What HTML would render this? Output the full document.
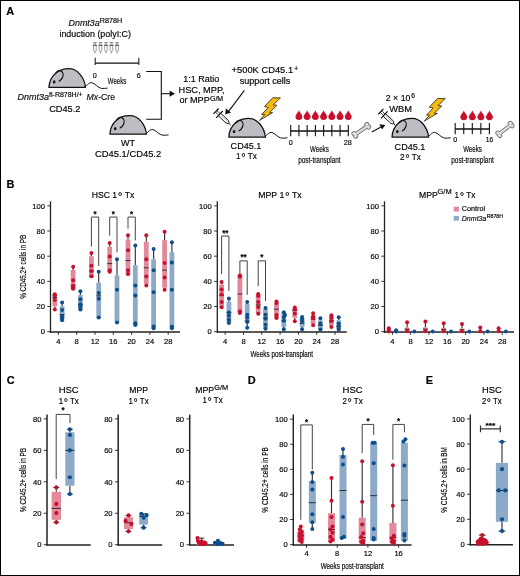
<!DOCTYPE html><html><head><meta charset="utf-8"><style>html,body{margin:0;padding:0;background:#fff;}body{width:520px;height:576px;overflow:hidden;}svg{display:block;will-change:transform;}text{font-family:"Liberation Sans", sans-serif;stroke:#111;stroke-width:0.18px;}</style></head><body>
<svg width="520" height="576" viewBox="0 0 520 576">
<defs>
<g id="mouse"><path d="M0,0 C0.3,-5 3,-11 6.6,-14 C8.5,-15.8 11,-17.3 14,-18 C16,-18.6 18,-18.7 20,-18.7 C28.5,-18.7 35.5,-10 36.6,0 Z" fill="#bebdc3" stroke="#111" stroke-width="1.25" stroke-linejoin="round"/><path d="M6.8,-14.3 C8.3,-16.5 10.5,-17.2 12.3,-16.3 C14.3,-15.2 14.6,-12.4 13.8,-10.4 C13.1,-8.6 11.8,-7.1 10.3,-6.3" fill="none" stroke="#111" stroke-width="1.2" stroke-linecap="round"/><ellipse cx="5.3" cy="-5.5" rx="1.3" ry="1.65" fill="#111"/><path d="M36.4,-0.6 C38.5,-2.5 40.5,-5.3 43.2,-4.6 C46,-3.9 49.5,0.6 52.5,1 C54.5,1.3 56.5,0.8 58.3,0.7" fill="none" stroke="#111" stroke-width="1" stroke-linecap="round"/></g>
<g id="bolt"><path d="M272.7,97.8 L280.4,97.8 L273.2,105 L277,105.2 L269.4,112.7 L272.6,112.6 L259.6,120.4 L264.8,114.3 L261.6,114.5 L268.3,107.3 L264.4,106.5 Z" fill="#f6b90e" stroke="#222" stroke-width="0.8" stroke-linejoin="miter"/></g>
<g id="syr"><line x1="0" y1="-3.7" x2="0" y2="3.7" stroke="#111" stroke-width="1.2"/><line x1="0" y1="-1.05" x2="4.7" y2="-1.05" stroke="#111" stroke-width="0.8"/><line x1="0" y1="1.05" x2="4.7" y2="1.05" stroke="#111" stroke-width="0.8"/><path d="M4.7,-1.75 L15.3,-1.75 L17.6,-0.4 L17.6,0.4 L15.3,1.75 L4.7,1.75" fill="#fff" stroke="#111" stroke-width="0.9" stroke-linejoin="round"/><rect x="6" y="-1.2" width="9" height="1.3" fill="#c8c8c8"/><line x1="4.7" y1="-4.8" x2="4.7" y2="4.8" stroke="#111" stroke-width="1.2"/><line x1="17.6" y1="0" x2="20.2" y2="0" stroke="#111" stroke-width="0.9"/></g>
<g id="ssyr" fill="none" stroke="#7a7a7a"><line x1="-1.9" y1="0.4" x2="1.9" y2="0.4" stroke-width="0.8"/><line x1="-0.6" y1="0.4" x2="-0.6" y2="3" stroke-width="0.6"/><line x1="0.6" y1="0.4" x2="0.6" y2="3" stroke-width="0.6"/><line x1="-2.1" y1="3.1" x2="2.1" y2="3.1" stroke="#444" stroke-width="1"/><path d="M-1.3,3.3 L-1.3,8.2 Q-1.3,9.3 0,9.3 Q1.3,9.3 1.3,8.2 L1.3,3.3" stroke-width="0.7"/><line x1="0" y1="9.3" x2="0" y2="11.4" stroke-width="0.7"/></g>
<g id="drop"><path d="M0,0 C0.7,2.3 3.5,4.3 3.5,6.5 C3.5,8.5 1.9,9.8 0,9.8 C-1.9,9.8 -3.5,8.5 -3.5,6.5 C-3.5,4.3 -0.7,2.3 0,0 Z" fill="#c8102e"/></g>
<g id="bone"><g fill="#d9d9d9" stroke="#666" stroke-width="1.5"><circle cx="-7.9" cy="-1.55" r="1.75"/><circle cx="-7.9" cy="1.55" r="1.75"/><circle cx="7.9" cy="-1.55" r="1.75"/><circle cx="7.9" cy="1.55" r="1.75"/><rect x="-7.6" y="-1.25" width="15.2" height="2.5"/></g><g fill="#d9d9d9"><circle cx="-7.9" cy="-1.55" r="1.75"/><circle cx="-7.9" cy="1.55" r="1.75"/><circle cx="7.9" cy="-1.55" r="1.75"/><circle cx="7.9" cy="1.55" r="1.75"/><rect x="-7.6" y="-1.25" width="15.2" height="2.5"/></g></g>
</defs>
<rect x="0" y="0" width="520" height="576" fill="#fff"/>
<text x="6.20" y="14.60" font-size="11.46" textLength="7.94" lengthAdjust="spacingAndGlyphs" font-weight="bold" fill="#000">A</text>
<text x="68.5" y="25.8" font-size="9.4" fill="#111" font-style="italic" textLength="31.2" lengthAdjust="spacingAndGlyphs">Dnmt3a</text>
<text x="99.80" y="23.40" font-size="6.88" textLength="22.40" lengthAdjust="spacingAndGlyphs">R878H</text>
<text x="95.20" y="37.30" font-size="9.38" text-anchor="middle" textLength="71.50" lengthAdjust="spacingAndGlyphs">induction (polyI:C)</text>
<use href="#ssyr" x="94.9" y="42.2"/>
<use href="#ssyr" x="100.5" y="42.2"/>
<use href="#ssyr" x="106.0" y="42.2"/>
<use href="#ssyr" x="111.5" y="42.2"/>
<use href="#ssyr" x="117.1" y="42.2"/>
<line x1="95.20" y1="57.80" x2="95.20" y2="65.00" stroke="#222" stroke-width="1.1"/>
<line x1="138.80" y1="57.80" x2="138.80" y2="65.00" stroke="#222" stroke-width="1.1"/>
<line x1="95.20" y1="63.10" x2="138.80" y2="63.10" stroke="#111" stroke-width="1.3"/>
<text x="94.70" y="77.80" font-size="7.50" text-anchor="middle" textLength="4.00" lengthAdjust="spacingAndGlyphs">0</text>
<text x="138.80" y="77.80" font-size="7.50" text-anchor="middle" textLength="4.00" lengthAdjust="spacingAndGlyphs">6</text>
<text x="117.00" y="83.80" font-size="9.59" text-anchor="middle" textLength="18.40" lengthAdjust="spacingAndGlyphs">Weeks</text>
<path d="M146.2,71.5 L161.3,71.5 L161.3,119.2 L146.2,119.2" fill="none" stroke="#111" stroke-width="1.1"/>
<line x1="161.30" y1="93.70" x2="171.00" y2="93.70" stroke="#111" stroke-width="1.1"/>
<path d="M175,93.7 L169.6,90.6 L169.6,96.8 Z" fill="#111"/>
<use href="#mouse" x="48.9" y="87.4"/>
<use href="#mouse" x="109.9" y="134.2"/>
<use href="#mouse" x="228.8" y="137.1"/>
<use href="#mouse" x="392.0" y="137.1"/>
<text x="17.4" y="100.3" font-size="9.4" fill="#111" font-style="italic" textLength="31.5" lengthAdjust="spacingAndGlyphs">Dnmt3a</text>
<text x="49.10" y="97.00" font-size="7.09" textLength="33.60" lengthAdjust="spacingAndGlyphs">fl-R878H/+</text>
<text x="86.5" y="100.4" font-size="9.4" fill="#111" textLength="28.6" lengthAdjust="spacingAndGlyphs"><tspan font-style="italic">Mx</tspan>-Cre</text>
<text x="64.80" y="111.70" font-size="9.38" text-anchor="middle" textLength="31.30" lengthAdjust="spacingAndGlyphs">CD45.2</text>
<text x="128.00" y="145.80" font-size="9.38" text-anchor="middle" textLength="13.99" lengthAdjust="spacingAndGlyphs">WT</text>
<text x="128.10" y="156.50" font-size="9.38" text-anchor="middle" textLength="66.20" lengthAdjust="spacingAndGlyphs">CD45.1/CD45.2</text>
<text x="201.20" y="81.50" font-size="9.38" text-anchor="middle" textLength="36.02" lengthAdjust="spacingAndGlyphs">1:1 Ratio</text>
<text x="201.50" y="92.90" font-size="9.38" text-anchor="middle" textLength="46.00" lengthAdjust="spacingAndGlyphs">HSC, MPP,</text>
<text x="179.40" y="103.30" font-size="9.38" textLength="30.40" lengthAdjust="spacingAndGlyphs">or MPP</text>
<text x="210.00" y="101.00" font-size="6.67" textLength="13.10" lengthAdjust="spacingAndGlyphs">G/M</text>
<text x="231.60" y="73.20" font-size="9.38" textLength="61.50" lengthAdjust="spacingAndGlyphs">+500K CD45.1</text>
<text x="294.00" y="71.20" font-size="7.82" textLength="4.38" lengthAdjust="spacingAndGlyphs">+</text>
<text x="265.00" y="84.10" font-size="9.38" text-anchor="middle" textLength="50.70" lengthAdjust="spacingAndGlyphs">support cells</text>
<line x1="244.40" y1="90.30" x2="228.60" y2="111.40" stroke="#111" stroke-width="1.1"/>
<path d="M225.2,114.6 L225.9,108.6 L231,112.4 Z" fill="#111"/>
<use href="#syr" transform="translate(216.1,111.2) rotate(43.6)"/>
<use href="#bolt"/>
<text x="246.00" y="149.20" font-size="9.38" text-anchor="middle" textLength="30.80" lengthAdjust="spacingAndGlyphs">CD45.1</text>
<text x="246.50" y="159.40" font-size="9.38" text-anchor="middle" textLength="20.94" lengthAdjust="spacingAndGlyphs">1<tspan font-size="12.66" dx="0.7" dy="2.96">°</tspan><tspan dy="-2.96"> Tx</tspan></text>
<use href="#drop" x="298.90" y="110.2"/>
<use href="#drop" x="307.13" y="110.2"/>
<use href="#drop" x="315.36" y="110.2"/>
<use href="#drop" x="323.59" y="110.2"/>
<use href="#drop" x="331.82" y="110.2"/>
<use href="#drop" x="340.05" y="110.2"/>
<use href="#drop" x="348.28" y="110.2"/>
<line x1="290.70" y1="125.00" x2="290.70" y2="136.20" stroke="#111" stroke-width="1.1"/>
<line x1="298.93" y1="125.00" x2="298.93" y2="136.20" stroke="#111" stroke-width="1.1"/>
<line x1="307.16" y1="125.00" x2="307.16" y2="136.20" stroke="#111" stroke-width="1.1"/>
<line x1="315.39" y1="125.00" x2="315.39" y2="136.20" stroke="#111" stroke-width="1.1"/>
<line x1="323.62" y1="125.00" x2="323.62" y2="136.20" stroke="#111" stroke-width="1.1"/>
<line x1="331.85" y1="125.00" x2="331.85" y2="136.20" stroke="#111" stroke-width="1.1"/>
<line x1="340.08" y1="125.00" x2="340.08" y2="136.20" stroke="#111" stroke-width="1.1"/>
<line x1="348.31" y1="125.00" x2="348.31" y2="136.20" stroke="#111" stroke-width="1.1"/>
<line x1="290.70" y1="131.00" x2="348.30" y2="131.00" stroke="#111" stroke-width="1.3"/>
<text x="290.70" y="144.60" font-size="7.50" text-anchor="middle" textLength="4.00" lengthAdjust="spacingAndGlyphs">0</text>
<text x="347.80" y="144.60" font-size="7.50" text-anchor="middle" textLength="8.01" lengthAdjust="spacingAndGlyphs">28</text>
<text x="319.40" y="151.60" font-size="9.59" text-anchor="middle" textLength="18.60" lengthAdjust="spacingAndGlyphs">Weeks</text>
<text x="319.40" y="162.70" font-size="9.59" text-anchor="middle" textLength="42.50" lengthAdjust="spacingAndGlyphs">post-transplant</text>
<use href="#bone" transform="translate(361.3,130.3) rotate(-35)"/>
<line x1="371.80" y1="131.90" x2="381.50" y2="126.80" stroke="#111" stroke-width="1.1"/>
<path d="M385.2,124.9 L379.3,124.2 L382.1,129.6 Z" fill="#111"/>
<use href="#syr" transform="translate(380.9,111.6) rotate(43.6)"/>
<text x="385.80" y="100.60" font-size="9.38" textLength="24.60" lengthAdjust="spacingAndGlyphs">2 × 10</text>
<text x="411.20" y="98.10" font-size="7.09" textLength="3.78" lengthAdjust="spacingAndGlyphs">6</text>
<text x="389.20" y="111.60" font-size="9.59" textLength="22.70" lengthAdjust="spacingAndGlyphs">WBM</text>
<use href="#bolt" transform="translate(164.8,0.7)"/>
<text x="410.00" y="149.50" font-size="9.38" text-anchor="middle" textLength="30.80" lengthAdjust="spacingAndGlyphs">CD45.1</text>
<text x="410.50" y="160.30" font-size="9.38" text-anchor="middle" textLength="20.94" lengthAdjust="spacingAndGlyphs">2<tspan font-size="12.66" dx="0.7" dy="2.96">°</tspan><tspan dy="-2.96"> Tx</tspan></text>
<use href="#drop" x="463.80" y="110.4"/>
<use href="#drop" x="472.35" y="110.4"/>
<use href="#drop" x="480.90" y="110.4"/>
<use href="#drop" x="489.45" y="110.4"/>
<line x1="455.20" y1="123.00" x2="455.20" y2="134.20" stroke="#111" stroke-width="1.1"/>
<line x1="463.75" y1="123.00" x2="463.75" y2="134.20" stroke="#111" stroke-width="1.1"/>
<line x1="472.30" y1="123.00" x2="472.30" y2="134.20" stroke="#111" stroke-width="1.1"/>
<line x1="480.85" y1="123.00" x2="480.85" y2="134.20" stroke="#111" stroke-width="1.1"/>
<line x1="489.40" y1="123.00" x2="489.40" y2="134.20" stroke="#111" stroke-width="1.1"/>
<line x1="455.20" y1="129.00" x2="489.40" y2="129.00" stroke="#111" stroke-width="1.3"/>
<text x="455.20" y="142.30" font-size="7.50" text-anchor="middle" textLength="4.00" lengthAdjust="spacingAndGlyphs">0</text>
<text x="489.40" y="142.30" font-size="7.50" text-anchor="middle" textLength="7.50" lengthAdjust="spacingAndGlyphs">16</text>
<text x="472.50" y="151.60" font-size="9.59" text-anchor="middle" textLength="18.60" lengthAdjust="spacingAndGlyphs">Weeks</text>
<text x="472.50" y="162.60" font-size="9.59" text-anchor="middle" textLength="42.50" lengthAdjust="spacingAndGlyphs">post-transplant</text>
<use href="#bone" transform="translate(505.0,129.4) rotate(-38)"/>
<text x="6.50" y="188.10" font-size="11.46" textLength="7.94" lengthAdjust="spacingAndGlyphs" font-weight="bold" fill="#000">B</text>
<text transform="translate(25.6,266.8) rotate(-90)" font-size="9" text-anchor="middle" textLength="64" lengthAdjust="spacingAndGlyphs">% CD45.2+ cells in PB</text>
<line x1="49.90" y1="332.00" x2="180.00" y2="332.00" stroke="#222" stroke-width="1.5"/>
<line x1="50.50" y1="201.30" x2="50.50" y2="332.70" stroke="#222" stroke-width="1.3"/>
<line x1="47.30" y1="331.70" x2="50.50" y2="331.70" stroke="#222" stroke-width="0.9"/>
<text x="44.90" y="334.40" font-size="7.92" text-anchor="end" textLength="4.23" lengthAdjust="spacingAndGlyphs">0</text>
<line x1="47.30" y1="306.53" x2="50.50" y2="306.53" stroke="#222" stroke-width="0.9"/>
<text x="44.90" y="309.23" font-size="7.92" text-anchor="end" textLength="8.45" lengthAdjust="spacingAndGlyphs">20</text>
<line x1="47.30" y1="281.36" x2="50.50" y2="281.36" stroke="#222" stroke-width="0.9"/>
<text x="44.90" y="284.06" font-size="7.92" text-anchor="end" textLength="8.45" lengthAdjust="spacingAndGlyphs">40</text>
<line x1="47.30" y1="256.19" x2="50.50" y2="256.19" stroke="#222" stroke-width="0.9"/>
<text x="44.90" y="258.89" font-size="7.92" text-anchor="end" textLength="8.45" lengthAdjust="spacingAndGlyphs">60</text>
<line x1="47.30" y1="231.02" x2="50.50" y2="231.02" stroke="#222" stroke-width="0.9"/>
<text x="44.90" y="233.72" font-size="7.92" text-anchor="end" textLength="8.45" lengthAdjust="spacingAndGlyphs">80</text>
<line x1="47.30" y1="205.85" x2="50.50" y2="205.85" stroke="#222" stroke-width="0.9"/>
<text x="44.90" y="208.55" font-size="7.92" text-anchor="end" textLength="12.68" lengthAdjust="spacingAndGlyphs">100</text>
<line x1="58.40" y1="331.70" x2="58.40" y2="334.90" stroke="#222" stroke-width="0.9"/>
<text x="58.40" y="343.70" font-size="7.92" text-anchor="middle" textLength="4.23" lengthAdjust="spacingAndGlyphs">4</text>
<line x1="76.70" y1="331.70" x2="76.70" y2="334.90" stroke="#222" stroke-width="0.9"/>
<text x="76.70" y="343.70" font-size="7.92" text-anchor="middle" textLength="4.23" lengthAdjust="spacingAndGlyphs">8</text>
<line x1="95.00" y1="331.70" x2="95.00" y2="334.90" stroke="#222" stroke-width="0.9"/>
<text x="95.00" y="343.70" font-size="7.92" text-anchor="middle" textLength="8.45" lengthAdjust="spacingAndGlyphs">12</text>
<line x1="113.30" y1="331.70" x2="113.30" y2="334.90" stroke="#222" stroke-width="0.9"/>
<text x="113.30" y="343.70" font-size="7.92" text-anchor="middle" textLength="8.45" lengthAdjust="spacingAndGlyphs">16</text>
<line x1="131.60" y1="331.70" x2="131.60" y2="334.90" stroke="#222" stroke-width="0.9"/>
<text x="131.60" y="343.70" font-size="7.92" text-anchor="middle" textLength="8.45" lengthAdjust="spacingAndGlyphs">20</text>
<line x1="149.90" y1="331.70" x2="149.90" y2="334.90" stroke="#222" stroke-width="0.9"/>
<text x="149.90" y="343.70" font-size="7.92" text-anchor="middle" textLength="8.45" lengthAdjust="spacingAndGlyphs">24</text>
<line x1="168.20" y1="331.70" x2="168.20" y2="334.90" stroke="#222" stroke-width="0.9"/>
<text x="168.20" y="343.70" font-size="7.92" text-anchor="middle" textLength="8.45" lengthAdjust="spacingAndGlyphs">28</text>
<line x1="54.80" y1="294.45" x2="54.80" y2="294.20" stroke="#333" stroke-width="1.15"/>
<line x1="54.80" y1="306.40" x2="54.80" y2="309.55" stroke="#333" stroke-width="1.15"/>
<rect x="52.40" y="294.45" width="4.80" height="11.96" fill="#e28a9b"/>
<line x1="52.40" y1="297.59" x2="57.20" y2="297.59" stroke="#222" stroke-width="0.9"/>
<circle cx="54.80" cy="294.20" r="2.0" fill="#c8102e"/>
<circle cx="54.80" cy="295.33" r="2.0" fill="#c8102e"/>
<circle cx="54.80" cy="300.11" r="2.0" fill="#c8102e"/>
<circle cx="54.80" cy="309.55" r="2.0" fill="#c8102e"/>
<line x1="62.10" y1="306.15" x2="62.10" y2="302.50" stroke="#333" stroke-width="1.15"/>
<line x1="62.10" y1="319.24" x2="62.10" y2="320.37" stroke="#333" stroke-width="1.15"/>
<rect x="59.70" y="306.15" width="4.80" height="13.09" fill="#8dabc9"/>
<line x1="59.70" y1="314.46" x2="64.50" y2="314.46" stroke="#222" stroke-width="0.9"/>
<circle cx="62.10" cy="302.50" r="2.0" fill="#0c4f8c"/>
<circle cx="62.10" cy="310.05" r="2.0" fill="#0c4f8c"/>
<circle cx="62.10" cy="316.22" r="2.0" fill="#0c4f8c"/>
<circle cx="62.10" cy="318.61" r="2.0" fill="#0c4f8c"/>
<circle cx="62.10" cy="320.37" r="2.0" fill="#0c4f8c"/>
<line x1="73.10" y1="270.03" x2="73.10" y2="266.64" stroke="#333" stroke-width="1.15"/>
<rect x="70.70" y="270.03" width="4.80" height="19.51" fill="#e28a9b"/>
<line x1="70.70" y1="285.64" x2="75.50" y2="285.64" stroke="#222" stroke-width="0.9"/>
<circle cx="73.10" cy="266.64" r="2.0" fill="#c8102e"/>
<circle cx="73.10" cy="280.35" r="2.0" fill="#c8102e"/>
<circle cx="73.10" cy="285.64" r="2.0" fill="#c8102e"/>
<circle cx="73.10" cy="287.27" r="2.0" fill="#c8102e"/>
<circle cx="73.10" cy="288.66" r="2.0" fill="#c8102e"/>
<line x1="80.40" y1="295.08" x2="80.40" y2="291.30" stroke="#333" stroke-width="1.15"/>
<rect x="78.00" y="295.08" width="4.80" height="14.72" fill="#8dabc9"/>
<line x1="78.00" y1="304.52" x2="82.80" y2="304.52" stroke="#222" stroke-width="0.9"/>
<circle cx="80.40" cy="291.30" r="2.0" fill="#0c4f8c"/>
<circle cx="80.40" cy="299.36" r="2.0" fill="#0c4f8c"/>
<circle cx="80.40" cy="304.26" r="2.0" fill="#0c4f8c"/>
<circle cx="80.40" cy="306.53" r="2.0" fill="#0c4f8c"/>
<circle cx="80.40" cy="309.55" r="2.0" fill="#0c4f8c"/>
<line x1="91.40" y1="256.19" x2="91.40" y2="253.04" stroke="#333" stroke-width="1.15"/>
<rect x="89.00" y="256.19" width="4.80" height="21.39" fill="#e28a9b"/>
<line x1="89.00" y1="271.04" x2="93.80" y2="271.04" stroke="#222" stroke-width="0.9"/>
<circle cx="91.40" cy="253.04" r="2.0" fill="#c8102e"/>
<circle cx="91.40" cy="265.75" r="2.0" fill="#c8102e"/>
<circle cx="91.40" cy="271.04" r="2.0" fill="#c8102e"/>
<circle cx="91.40" cy="276.20" r="2.0" fill="#c8102e"/>
<line x1="98.70" y1="282.74" x2="98.70" y2="271.67" stroke="#333" stroke-width="1.15"/>
<rect x="96.30" y="282.74" width="4.80" height="35.49" fill="#8dabc9"/>
<line x1="96.30" y1="295.83" x2="101.10" y2="295.83" stroke="#222" stroke-width="0.9"/>
<circle cx="98.70" cy="271.67" r="2.0" fill="#0c4f8c"/>
<circle cx="98.70" cy="293.06" r="2.0" fill="#0c4f8c"/>
<circle cx="98.70" cy="298.73" r="2.0" fill="#0c4f8c"/>
<circle cx="98.70" cy="317.48" r="2.0" fill="#0c4f8c"/>
<line x1="109.70" y1="246.63" x2="109.70" y2="243.10" stroke="#333" stroke-width="1.15"/>
<rect x="107.30" y="246.63" width="4.80" height="25.55" fill="#e28a9b"/>
<line x1="107.30" y1="263.62" x2="112.10" y2="263.62" stroke="#222" stroke-width="0.9"/>
<circle cx="109.70" cy="243.10" r="2.0" fill="#c8102e"/>
<circle cx="109.70" cy="256.57" r="2.0" fill="#c8102e"/>
<circle cx="109.70" cy="270.16" r="2.0" fill="#c8102e"/>
<circle cx="109.70" cy="271.80" r="2.0" fill="#c8102e"/>
<line x1="117.00" y1="275.32" x2="117.00" y2="259.34" stroke="#333" stroke-width="1.15"/>
<rect x="114.60" y="275.32" width="4.80" height="47.57" fill="#8dabc9"/>
<circle cx="117.00" cy="259.34" r="2.0" fill="#0c4f8c"/>
<circle cx="117.00" cy="289.67" r="2.0" fill="#0c4f8c"/>
<circle cx="117.00" cy="322.39" r="2.0" fill="#0c4f8c"/>
<line x1="128.00" y1="239.45" x2="128.00" y2="235.17" stroke="#333" stroke-width="1.15"/>
<rect x="125.60" y="239.45" width="4.80" height="35.49" fill="#e28a9b"/>
<line x1="125.60" y1="260.59" x2="130.40" y2="260.59" stroke="#222" stroke-width="0.9"/>
<circle cx="128.00" cy="235.17" r="2.0" fill="#c8102e"/>
<circle cx="128.00" cy="250.15" r="2.0" fill="#c8102e"/>
<circle cx="128.00" cy="270.16" r="2.0" fill="#c8102e"/>
<circle cx="128.00" cy="274.06" r="2.0" fill="#c8102e"/>
<line x1="135.30" y1="265.25" x2="135.30" y2="245.49" stroke="#333" stroke-width="1.15"/>
<rect x="132.90" y="265.25" width="4.80" height="60.16" fill="#8dabc9"/>
<circle cx="135.30" cy="245.49" r="2.0" fill="#0c4f8c"/>
<circle cx="135.30" cy="285.39" r="2.0" fill="#0c4f8c"/>
<circle cx="135.30" cy="295.58" r="2.0" fill="#0c4f8c"/>
<circle cx="135.30" cy="323.14" r="2.0" fill="#0c4f8c"/>
<circle cx="135.30" cy="325.03" r="2.0" fill="#0c4f8c"/>
<line x1="146.30" y1="241.72" x2="146.30" y2="235.17" stroke="#333" stroke-width="1.15"/>
<line x1="146.30" y1="283.75" x2="146.30" y2="285.39" stroke="#333" stroke-width="1.15"/>
<rect x="143.90" y="241.72" width="4.80" height="42.03" fill="#e28a9b"/>
<line x1="143.90" y1="267.77" x2="148.70" y2="267.77" stroke="#222" stroke-width="0.9"/>
<circle cx="146.30" cy="235.17" r="2.0" fill="#c8102e"/>
<circle cx="146.30" cy="259.34" r="2.0" fill="#c8102e"/>
<circle cx="146.30" cy="276.45" r="2.0" fill="#c8102e"/>
<circle cx="146.30" cy="285.39" r="2.0" fill="#c8102e"/>
<line x1="153.60" y1="259.34" x2="153.60" y2="248.89" stroke="#333" stroke-width="1.15"/>
<rect x="151.20" y="259.34" width="4.80" height="69.09" fill="#8dabc9"/>
<circle cx="153.60" cy="248.89" r="2.0" fill="#0c4f8c"/>
<circle cx="153.60" cy="270.16" r="2.0" fill="#0c4f8c"/>
<circle cx="153.60" cy="292.31" r="2.0" fill="#0c4f8c"/>
<circle cx="153.60" cy="326.41" r="2.0" fill="#0c4f8c"/>
<circle cx="153.60" cy="328.18" r="2.0" fill="#0c4f8c"/>
<line x1="164.60" y1="240.08" x2="164.60" y2="231.78" stroke="#333" stroke-width="1.15"/>
<line x1="164.60" y1="287.65" x2="164.60" y2="289.67" stroke="#333" stroke-width="1.15"/>
<rect x="162.20" y="240.08" width="4.80" height="47.57" fill="#e28a9b"/>
<line x1="162.20" y1="270.16" x2="167.00" y2="270.16" stroke="#222" stroke-width="0.9"/>
<circle cx="164.60" cy="231.78" r="2.0" fill="#c8102e"/>
<circle cx="164.60" cy="262.99" r="2.0" fill="#c8102e"/>
<circle cx="164.60" cy="277.58" r="2.0" fill="#c8102e"/>
<circle cx="164.60" cy="289.67" r="2.0" fill="#c8102e"/>
<line x1="171.90" y1="252.16" x2="171.90" y2="242.22" stroke="#333" stroke-width="1.15"/>
<rect x="169.50" y="252.16" width="4.80" height="76.27" fill="#8dabc9"/>
<circle cx="171.90" cy="242.22" r="2.0" fill="#0c4f8c"/>
<circle cx="171.90" cy="262.48" r="2.0" fill="#0c4f8c"/>
<circle cx="171.90" cy="289.67" r="2.0" fill="#0c4f8c"/>
<circle cx="171.90" cy="326.67" r="2.0" fill="#0c4f8c"/>
<circle cx="171.90" cy="328.18" r="2.0" fill="#0c4f8c"/>
<path d="M91.40,246.50 L91.40,217.05 L98.70,217.05 L98.70,265.88" fill="none" stroke="#444" stroke-width="1.0"/>
<text x="95.05" y="216.65" font-size="8.34" text-anchor="middle" textLength="3.11" lengthAdjust="spacingAndGlyphs" font-weight="bold">*</text>
<path d="M109.70,235.68 L109.70,217.05 L117.00,217.05 L117.00,252.41" fill="none" stroke="#444" stroke-width="1.0"/>
<text x="113.35" y="216.65" font-size="8.34" text-anchor="middle" textLength="3.11" lengthAdjust="spacingAndGlyphs" font-weight="bold">*</text>
<path d="M128.00,228.50 L128.00,217.05 L135.30,217.05 L135.30,240.33" fill="none" stroke="#444" stroke-width="1.0"/>
<text x="131.65" y="216.65" font-size="8.34" text-anchor="middle" textLength="3.11" lengthAdjust="spacingAndGlyphs" font-weight="bold">*</text>
<text x="113.00" y="198.00" font-size="8.96" text-anchor="middle" textLength="42.70" lengthAdjust="spacingAndGlyphs">HSC 1<tspan font-size="12.10" dx="0.7" dy="2.83">°</tspan><tspan dy="-2.83"> Tx</tspan></text>
<line x1="216.70" y1="332.00" x2="346.80" y2="332.00" stroke="#222" stroke-width="1.5"/>
<line x1="217.30" y1="201.30" x2="217.30" y2="332.70" stroke="#222" stroke-width="1.3"/>
<line x1="214.10" y1="331.70" x2="217.30" y2="331.70" stroke="#222" stroke-width="0.9"/>
<text x="211.70" y="334.40" font-size="7.92" text-anchor="end" textLength="4.23" lengthAdjust="spacingAndGlyphs">0</text>
<line x1="214.10" y1="306.53" x2="217.30" y2="306.53" stroke="#222" stroke-width="0.9"/>
<text x="211.70" y="309.23" font-size="7.92" text-anchor="end" textLength="8.45" lengthAdjust="spacingAndGlyphs">20</text>
<line x1="214.10" y1="281.36" x2="217.30" y2="281.36" stroke="#222" stroke-width="0.9"/>
<text x="211.70" y="284.06" font-size="7.92" text-anchor="end" textLength="8.45" lengthAdjust="spacingAndGlyphs">40</text>
<line x1="214.10" y1="256.19" x2="217.30" y2="256.19" stroke="#222" stroke-width="0.9"/>
<text x="211.70" y="258.89" font-size="7.92" text-anchor="end" textLength="8.45" lengthAdjust="spacingAndGlyphs">60</text>
<line x1="214.10" y1="231.02" x2="217.30" y2="231.02" stroke="#222" stroke-width="0.9"/>
<text x="211.70" y="233.72" font-size="7.92" text-anchor="end" textLength="8.45" lengthAdjust="spacingAndGlyphs">80</text>
<line x1="214.10" y1="205.85" x2="217.30" y2="205.85" stroke="#222" stroke-width="0.9"/>
<text x="211.70" y="208.55" font-size="7.92" text-anchor="end" textLength="12.68" lengthAdjust="spacingAndGlyphs">100</text>
<line x1="225.20" y1="331.70" x2="225.20" y2="334.90" stroke="#222" stroke-width="0.9"/>
<text x="225.20" y="343.70" font-size="7.92" text-anchor="middle" textLength="4.23" lengthAdjust="spacingAndGlyphs">4</text>
<line x1="243.50" y1="331.70" x2="243.50" y2="334.90" stroke="#222" stroke-width="0.9"/>
<text x="243.50" y="343.70" font-size="7.92" text-anchor="middle" textLength="4.23" lengthAdjust="spacingAndGlyphs">8</text>
<line x1="261.80" y1="331.70" x2="261.80" y2="334.90" stroke="#222" stroke-width="0.9"/>
<text x="261.80" y="343.70" font-size="7.92" text-anchor="middle" textLength="8.45" lengthAdjust="spacingAndGlyphs">12</text>
<line x1="280.10" y1="331.70" x2="280.10" y2="334.90" stroke="#222" stroke-width="0.9"/>
<text x="280.10" y="343.70" font-size="7.92" text-anchor="middle" textLength="8.45" lengthAdjust="spacingAndGlyphs">16</text>
<line x1="298.40" y1="331.70" x2="298.40" y2="334.90" stroke="#222" stroke-width="0.9"/>
<text x="298.40" y="343.70" font-size="7.92" text-anchor="middle" textLength="8.45" lengthAdjust="spacingAndGlyphs">20</text>
<line x1="316.70" y1="331.70" x2="316.70" y2="334.90" stroke="#222" stroke-width="0.9"/>
<text x="316.70" y="343.70" font-size="7.92" text-anchor="middle" textLength="8.45" lengthAdjust="spacingAndGlyphs">24</text>
<line x1="335.00" y1="331.70" x2="335.00" y2="334.90" stroke="#222" stroke-width="0.9"/>
<text x="335.00" y="343.70" font-size="7.92" text-anchor="middle" textLength="8.45" lengthAdjust="spacingAndGlyphs">28</text>
<line x1="221.60" y1="284.51" x2="221.60" y2="282.12" stroke="#333" stroke-width="1.15"/>
<line x1="221.60" y1="306.91" x2="221.60" y2="307.29" stroke="#333" stroke-width="1.15"/>
<rect x="219.20" y="284.51" width="4.80" height="22.40" fill="#e28a9b"/>
<line x1="219.20" y1="295.33" x2="224.00" y2="295.33" stroke="#222" stroke-width="0.9"/>
<circle cx="221.60" cy="282.12" r="2.0" fill="#c8102e"/>
<circle cx="221.60" cy="289.41" r="2.0" fill="#c8102e"/>
<circle cx="221.60" cy="294.57" r="2.0" fill="#c8102e"/>
<circle cx="221.60" cy="302.00" r="2.0" fill="#c8102e"/>
<circle cx="221.60" cy="307.29" r="2.0" fill="#c8102e"/>
<line x1="228.90" y1="301.62" x2="228.90" y2="298.60" stroke="#333" stroke-width="1.15"/>
<line x1="228.90" y1="322.76" x2="228.90" y2="322.89" stroke="#333" stroke-width="1.15"/>
<rect x="226.50" y="301.62" width="4.80" height="21.14" fill="#8dabc9"/>
<line x1="226.50" y1="312.44" x2="231.30" y2="312.44" stroke="#222" stroke-width="0.9"/>
<circle cx="228.90" cy="298.60" r="2.0" fill="#0c4f8c"/>
<circle cx="228.90" cy="312.44" r="2.0" fill="#0c4f8c"/>
<circle cx="228.90" cy="315.84" r="2.0" fill="#0c4f8c"/>
<circle cx="228.90" cy="319.87" r="2.0" fill="#0c4f8c"/>
<circle cx="228.90" cy="322.89" r="2.0" fill="#0c4f8c"/>
<line x1="239.90" y1="312.82" x2="239.90" y2="312.95" stroke="#333" stroke-width="1.15"/>
<rect x="237.50" y="275.07" width="4.80" height="37.75" fill="#e28a9b"/>
<line x1="237.50" y1="293.94" x2="242.30" y2="293.94" stroke="#222" stroke-width="0.9"/>
<circle cx="239.90" cy="275.19" r="2.0" fill="#c8102e"/>
<circle cx="239.90" cy="276.83" r="2.0" fill="#c8102e"/>
<circle cx="239.90" cy="311.31" r="2.0" fill="#c8102e"/>
<circle cx="239.90" cy="312.95" r="2.0" fill="#c8102e"/>
<line x1="247.20" y1="304.01" x2="247.20" y2="302.00" stroke="#333" stroke-width="1.15"/>
<line x1="247.20" y1="322.26" x2="247.20" y2="327.67" stroke="#333" stroke-width="1.15"/>
<rect x="244.80" y="304.01" width="4.80" height="18.25" fill="#8dabc9"/>
<line x1="244.80" y1="321.00" x2="249.60" y2="321.00" stroke="#222" stroke-width="0.9"/>
<circle cx="247.20" cy="302.00" r="2.0" fill="#0c4f8c"/>
<circle cx="247.20" cy="314.84" r="2.0" fill="#0c4f8c"/>
<circle cx="247.20" cy="317.86" r="2.0" fill="#0c4f8c"/>
<circle cx="247.20" cy="321.88" r="2.0" fill="#0c4f8c"/>
<circle cx="247.20" cy="327.67" r="2.0" fill="#0c4f8c"/>
<line x1="258.20" y1="313.33" x2="258.20" y2="313.83" stroke="#333" stroke-width="1.15"/>
<rect x="255.80" y="293.94" width="4.80" height="19.38" fill="#e28a9b"/>
<line x1="255.80" y1="304.89" x2="260.60" y2="304.89" stroke="#222" stroke-width="0.9"/>
<circle cx="258.20" cy="293.94" r="2.0" fill="#c8102e"/>
<circle cx="258.20" cy="295.96" r="2.0" fill="#c8102e"/>
<circle cx="258.20" cy="302.00" r="2.0" fill="#c8102e"/>
<circle cx="258.20" cy="306.91" r="2.0" fill="#c8102e"/>
<circle cx="258.20" cy="313.83" r="2.0" fill="#c8102e"/>
<line x1="265.50" y1="309.05" x2="265.50" y2="307.91" stroke="#333" stroke-width="1.15"/>
<rect x="263.10" y="309.05" width="4.80" height="19.63" fill="#8dabc9"/>
<line x1="263.10" y1="317.86" x2="267.90" y2="317.86" stroke="#222" stroke-width="0.9"/>
<circle cx="265.50" cy="307.91" r="2.0" fill="#0c4f8c"/>
<circle cx="265.50" cy="314.84" r="2.0" fill="#0c4f8c"/>
<circle cx="265.50" cy="318.86" r="2.0" fill="#0c4f8c"/>
<circle cx="265.50" cy="324.78" r="2.0" fill="#0c4f8c"/>
<circle cx="265.50" cy="328.68" r="2.0" fill="#0c4f8c"/>
<line x1="276.50" y1="302.63" x2="276.50" y2="301.62" stroke="#333" stroke-width="1.15"/>
<rect x="274.10" y="302.63" width="4.80" height="15.73" fill="#e28a9b"/>
<line x1="274.10" y1="309.17" x2="278.90" y2="309.17" stroke="#222" stroke-width="0.9"/>
<circle cx="276.50" cy="301.62" r="2.0" fill="#c8102e"/>
<circle cx="276.50" cy="302.88" r="2.0" fill="#c8102e"/>
<circle cx="276.50" cy="315.09" r="2.0" fill="#c8102e"/>
<circle cx="276.50" cy="318.11" r="2.0" fill="#c8102e"/>
<line x1="283.80" y1="312.57" x2="283.80" y2="312.19" stroke="#333" stroke-width="1.15"/>
<line x1="283.80" y1="327.04" x2="283.80" y2="329.31" stroke="#333" stroke-width="1.15"/>
<rect x="281.40" y="312.57" width="4.80" height="14.47" fill="#8dabc9"/>
<line x1="281.40" y1="320.75" x2="286.20" y2="320.75" stroke="#222" stroke-width="0.9"/>
<circle cx="283.80" cy="312.19" r="2.0" fill="#0c4f8c"/>
<circle cx="285.00" cy="315.09" r="2.0" fill="#0c4f8c"/>
<circle cx="283.80" cy="317.10" r="2.0" fill="#0c4f8c"/>
<circle cx="283.80" cy="320.75" r="2.0" fill="#0c4f8c"/>
<circle cx="283.80" cy="329.31" r="2.0" fill="#0c4f8c"/>
<line x1="294.80" y1="308.17" x2="294.80" y2="307.54" stroke="#333" stroke-width="1.15"/>
<line x1="294.80" y1="317.86" x2="294.80" y2="321.13" stroke="#333" stroke-width="1.15"/>
<rect x="292.40" y="308.17" width="4.80" height="9.69" fill="#e28a9b"/>
<line x1="292.40" y1="310.56" x2="297.20" y2="310.56" stroke="#222" stroke-width="0.9"/>
<circle cx="294.80" cy="307.54" r="2.0" fill="#c8102e"/>
<circle cx="294.80" cy="309.17" r="2.0" fill="#c8102e"/>
<circle cx="294.80" cy="313.45" r="2.0" fill="#c8102e"/>
<circle cx="294.80" cy="321.13" r="2.0" fill="#c8102e"/>
<line x1="302.10" y1="317.86" x2="302.10" y2="317.10" stroke="#333" stroke-width="1.15"/>
<line x1="302.10" y1="327.04" x2="302.10" y2="329.31" stroke="#333" stroke-width="1.15"/>
<rect x="299.70" y="317.86" width="4.80" height="9.19" fill="#8dabc9"/>
<line x1="299.70" y1="323.39" x2="304.50" y2="323.39" stroke="#222" stroke-width="0.9"/>
<circle cx="302.10" cy="317.10" r="2.0" fill="#0c4f8c"/>
<circle cx="302.10" cy="319.12" r="2.0" fill="#0c4f8c"/>
<circle cx="302.10" cy="321.13" r="2.0" fill="#0c4f8c"/>
<circle cx="302.10" cy="329.31" r="2.0" fill="#0c4f8c"/>
<line x1="313.10" y1="315.34" x2="313.10" y2="313.20" stroke="#333" stroke-width="1.15"/>
<line x1="313.10" y1="324.15" x2="313.10" y2="325.16" stroke="#333" stroke-width="1.15"/>
<rect x="310.70" y="315.34" width="4.80" height="8.81" fill="#e28a9b"/>
<line x1="310.70" y1="319.12" x2="315.50" y2="319.12" stroke="#222" stroke-width="0.9"/>
<circle cx="313.10" cy="313.20" r="2.0" fill="#c8102e"/>
<circle cx="313.10" cy="316.85" r="2.0" fill="#c8102e"/>
<circle cx="313.10" cy="318.11" r="2.0" fill="#c8102e"/>
<circle cx="313.10" cy="325.16" r="2.0" fill="#c8102e"/>
<line x1="320.40" y1="320.37" x2="320.40" y2="318.36" stroke="#333" stroke-width="1.15"/>
<rect x="318.00" y="320.37" width="4.80" height="9.19" fill="#8dabc9"/>
<line x1="318.00" y1="325.41" x2="322.80" y2="325.41" stroke="#222" stroke-width="0.9"/>
<circle cx="320.40" cy="318.36" r="2.0" fill="#0c4f8c"/>
<circle cx="320.40" cy="323.39" r="2.0" fill="#0c4f8c"/>
<circle cx="320.40" cy="329.56" r="2.0" fill="#0c4f8c"/>
<line x1="331.40" y1="316.09" x2="331.40" y2="315.34" stroke="#333" stroke-width="1.15"/>
<line x1="331.40" y1="325.66" x2="331.40" y2="327.04" stroke="#333" stroke-width="1.15"/>
<rect x="329.00" y="316.09" width="4.80" height="9.56" fill="#e28a9b"/>
<line x1="329.00" y1="320.37" x2="333.80" y2="320.37" stroke="#222" stroke-width="0.9"/>
<circle cx="331.40" cy="315.34" r="2.0" fill="#c8102e"/>
<circle cx="331.40" cy="317.86" r="2.0" fill="#c8102e"/>
<circle cx="331.40" cy="321.25" r="2.0" fill="#c8102e"/>
<circle cx="331.40" cy="327.04" r="2.0" fill="#c8102e"/>
<line x1="338.70" y1="320.37" x2="338.70" y2="317.23" stroke="#333" stroke-width="1.15"/>
<line x1="338.70" y1="329.18" x2="338.70" y2="329.56" stroke="#333" stroke-width="1.15"/>
<rect x="336.30" y="320.37" width="4.80" height="8.81" fill="#8dabc9"/>
<line x1="336.30" y1="326.67" x2="341.10" y2="326.67" stroke="#222" stroke-width="0.9"/>
<circle cx="338.70" cy="317.23" r="2.0" fill="#0c4f8c"/>
<circle cx="338.70" cy="323.39" r="2.0" fill="#0c4f8c"/>
<circle cx="338.70" cy="326.04" r="2.0" fill="#0c4f8c"/>
<circle cx="338.70" cy="329.56" r="2.0" fill="#0c4f8c"/>
<path d="M221.60,274.19 L221.60,236.05 L228.90,236.05 L228.90,291.05" fill="none" stroke="#444" stroke-width="1.0"/>
<text x="225.25" y="235.65" font-size="8.34" text-anchor="middle" textLength="6.23" lengthAdjust="spacingAndGlyphs" font-weight="bold">**</text>
<path d="M239.90,273.18 L239.90,260.85 L247.20,260.85 L247.20,294.95" fill="none" stroke="#444" stroke-width="1.0"/>
<text x="243.55" y="260.45" font-size="8.34" text-anchor="middle" textLength="6.23" lengthAdjust="spacingAndGlyphs" font-weight="bold">**</text>
<path d="M258.20,286.02 L258.20,260.85 L265.50,260.85 L265.50,300.99" fill="none" stroke="#444" stroke-width="1.0"/>
<text x="261.85" y="260.45" font-size="8.34" text-anchor="middle" textLength="3.11" lengthAdjust="spacingAndGlyphs" font-weight="bold">*</text>
<text x="280.00" y="198.00" font-size="8.96" text-anchor="middle" textLength="43.50" lengthAdjust="spacingAndGlyphs">MPP 1<tspan font-size="12.10" dx="0.7" dy="2.83">°</tspan><tspan dy="-2.83"> Tx</tspan></text>
<text x="281.80" y="356.80" font-size="9.17" text-anchor="middle" textLength="62.50" lengthAdjust="spacingAndGlyphs">Weeks post-transplant</text>
<line x1="383.90" y1="332.00" x2="514.00" y2="332.00" stroke="#222" stroke-width="1.5"/>
<line x1="384.50" y1="201.30" x2="384.50" y2="332.70" stroke="#222" stroke-width="1.3"/>
<line x1="381.30" y1="331.70" x2="384.50" y2="331.70" stroke="#222" stroke-width="0.9"/>
<text x="378.90" y="334.40" font-size="7.92" text-anchor="end" textLength="4.23" lengthAdjust="spacingAndGlyphs">0</text>
<line x1="381.30" y1="306.53" x2="384.50" y2="306.53" stroke="#222" stroke-width="0.9"/>
<text x="378.90" y="309.23" font-size="7.92" text-anchor="end" textLength="8.45" lengthAdjust="spacingAndGlyphs">20</text>
<line x1="381.30" y1="281.36" x2="384.50" y2="281.36" stroke="#222" stroke-width="0.9"/>
<text x="378.90" y="284.06" font-size="7.92" text-anchor="end" textLength="8.45" lengthAdjust="spacingAndGlyphs">40</text>
<line x1="381.30" y1="256.19" x2="384.50" y2="256.19" stroke="#222" stroke-width="0.9"/>
<text x="378.90" y="258.89" font-size="7.92" text-anchor="end" textLength="8.45" lengthAdjust="spacingAndGlyphs">60</text>
<line x1="381.30" y1="231.02" x2="384.50" y2="231.02" stroke="#222" stroke-width="0.9"/>
<text x="378.90" y="233.72" font-size="7.92" text-anchor="end" textLength="8.45" lengthAdjust="spacingAndGlyphs">80</text>
<line x1="381.30" y1="205.85" x2="384.50" y2="205.85" stroke="#222" stroke-width="0.9"/>
<text x="378.90" y="208.55" font-size="7.92" text-anchor="end" textLength="12.68" lengthAdjust="spacingAndGlyphs">100</text>
<line x1="392.40" y1="331.70" x2="392.40" y2="334.90" stroke="#222" stroke-width="0.9"/>
<text x="392.40" y="343.70" font-size="7.92" text-anchor="middle" textLength="4.23" lengthAdjust="spacingAndGlyphs">4</text>
<line x1="410.70" y1="331.70" x2="410.70" y2="334.90" stroke="#222" stroke-width="0.9"/>
<text x="410.70" y="343.70" font-size="7.92" text-anchor="middle" textLength="4.23" lengthAdjust="spacingAndGlyphs">8</text>
<line x1="429.00" y1="331.70" x2="429.00" y2="334.90" stroke="#222" stroke-width="0.9"/>
<text x="429.00" y="343.70" font-size="7.92" text-anchor="middle" textLength="8.45" lengthAdjust="spacingAndGlyphs">12</text>
<line x1="447.30" y1="331.70" x2="447.30" y2="334.90" stroke="#222" stroke-width="0.9"/>
<text x="447.30" y="343.70" font-size="7.92" text-anchor="middle" textLength="8.45" lengthAdjust="spacingAndGlyphs">16</text>
<line x1="465.60" y1="331.70" x2="465.60" y2="334.90" stroke="#222" stroke-width="0.9"/>
<text x="465.60" y="343.70" font-size="7.92" text-anchor="middle" textLength="8.45" lengthAdjust="spacingAndGlyphs">20</text>
<line x1="483.90" y1="331.70" x2="483.90" y2="334.90" stroke="#222" stroke-width="0.9"/>
<text x="483.90" y="343.70" font-size="7.92" text-anchor="middle" textLength="8.45" lengthAdjust="spacingAndGlyphs">24</text>
<line x1="502.20" y1="331.70" x2="502.20" y2="334.90" stroke="#222" stroke-width="0.9"/>
<text x="502.20" y="343.70" font-size="7.92" text-anchor="middle" textLength="8.45" lengthAdjust="spacingAndGlyphs">28</text>
<line x1="388.80" y1="329.81" x2="388.80" y2="328.30" stroke="#333" stroke-width="1.15"/>
<rect x="386.40" y="329.81" width="4.80" height="1.89" fill="#e28a9b"/>
<circle cx="388.80" cy="328.30" r="2.0" fill="#c8102e"/>
<circle cx="388.80" cy="330.19" r="2.0" fill="#c8102e"/>
<circle cx="388.80" cy="331.45" r="2.0" fill="#c8102e"/>
<line x1="396.10" y1="330.44" x2="396.10" y2="330.19" stroke="#333" stroke-width="1.15"/>
<rect x="393.70" y="330.44" width="4.80" height="1.26" fill="#8dabc9"/>
<circle cx="396.10" cy="330.19" r="2.0" fill="#0c4f8c"/>
<circle cx="396.10" cy="331.45" r="2.0" fill="#0c4f8c"/>
<line x1="407.10" y1="327.55" x2="407.10" y2="322.14" stroke="#333" stroke-width="1.15"/>
<rect x="404.70" y="327.55" width="4.80" height="4.15" fill="#e28a9b"/>
<line x1="404.70" y1="329.18" x2="409.50" y2="329.18" stroke="#222" stroke-width="0.9"/>
<circle cx="407.10" cy="322.14" r="2.0" fill="#c8102e"/>
<circle cx="407.10" cy="331.32" r="2.0" fill="#c8102e"/>
<rect x="412.00" y="331.07" width="4.80" height="0.63" fill="#8dabc9"/>
<circle cx="414.40" cy="331.45" r="2.0" fill="#0c4f8c"/>
<line x1="425.40" y1="327.55" x2="425.40" y2="321.38" stroke="#333" stroke-width="1.15"/>
<rect x="423.00" y="327.55" width="4.80" height="4.15" fill="#e28a9b"/>
<line x1="423.00" y1="329.18" x2="427.80" y2="329.18" stroke="#222" stroke-width="0.9"/>
<circle cx="425.40" cy="321.38" r="2.0" fill="#c8102e"/>
<circle cx="425.40" cy="331.32" r="2.0" fill="#c8102e"/>
<rect x="430.30" y="331.07" width="4.80" height="0.63" fill="#8dabc9"/>
<circle cx="432.70" cy="331.45" r="2.0" fill="#0c4f8c"/>
<line x1="443.70" y1="327.92" x2="443.70" y2="323.27" stroke="#333" stroke-width="1.15"/>
<rect x="441.30" y="327.92" width="4.80" height="3.78" fill="#e28a9b"/>
<line x1="441.30" y1="329.43" x2="446.10" y2="329.43" stroke="#222" stroke-width="0.9"/>
<circle cx="443.70" cy="323.27" r="2.0" fill="#c8102e"/>
<circle cx="443.70" cy="331.32" r="2.0" fill="#c8102e"/>
<rect x="448.60" y="331.07" width="4.80" height="0.63" fill="#8dabc9"/>
<circle cx="451.00" cy="331.45" r="2.0" fill="#0c4f8c"/>
<line x1="462.00" y1="328.55" x2="462.00" y2="324.02" stroke="#333" stroke-width="1.15"/>
<rect x="459.60" y="328.55" width="4.80" height="3.15" fill="#e28a9b"/>
<line x1="459.60" y1="329.81" x2="464.40" y2="329.81" stroke="#222" stroke-width="0.9"/>
<circle cx="462.00" cy="324.02" r="2.0" fill="#c8102e"/>
<circle cx="462.00" cy="331.32" r="2.0" fill="#c8102e"/>
<rect x="466.90" y="331.07" width="4.80" height="0.63" fill="#8dabc9"/>
<circle cx="469.30" cy="331.45" r="2.0" fill="#0c4f8c"/>
<line x1="480.30" y1="330.44" x2="480.30" y2="327.55" stroke="#333" stroke-width="1.15"/>
<rect x="477.90" y="330.44" width="4.80" height="1.26" fill="#e28a9b"/>
<circle cx="480.30" cy="327.55" r="2.0" fill="#c8102e"/>
<circle cx="480.30" cy="331.32" r="2.0" fill="#c8102e"/>
<rect x="485.20" y="331.07" width="4.80" height="0.63" fill="#8dabc9"/>
<circle cx="487.60" cy="331.45" r="2.0" fill="#0c4f8c"/>
<line x1="498.60" y1="330.44" x2="498.60" y2="328.30" stroke="#333" stroke-width="1.15"/>
<rect x="496.20" y="330.44" width="4.80" height="1.26" fill="#e28a9b"/>
<circle cx="498.60" cy="328.30" r="2.0" fill="#c8102e"/>
<circle cx="498.60" cy="331.32" r="2.0" fill="#c8102e"/>
<rect x="503.50" y="331.07" width="4.80" height="0.63" fill="#8dabc9"/>
<circle cx="505.90" cy="331.45" r="2.0" fill="#0c4f8c"/>
<text x="419.00" y="197.90" font-size="8.96" textLength="18.64" lengthAdjust="spacingAndGlyphs">MPP</text>
<text x="437.60" y="194.20" font-size="6.77" textLength="14.00" lengthAdjust="spacingAndGlyphs">G/M</text>
<text x="454.60" y="197.90" font-size="8.96" textLength="20.80" lengthAdjust="spacingAndGlyphs">1<tspan font-size="12.10" dx="0.7" dy="2.83">°</tspan><tspan dy="-2.83"> Tx</tspan></text>
<rect x="453.70" y="206.70" width="5.20" height="4.80" fill="#e28a9b"/>
<rect x="453.70" y="215.90" width="5.20" height="4.80" fill="#8dabc9"/>
<text x="461.80" y="211.40" font-size="7.50" textLength="23.30" lengthAdjust="spacingAndGlyphs">Control</text>
<text x="461.8" y="220.6" font-size="7.5" fill="#111" font-style="italic" textLength="24.6" lengthAdjust="spacingAndGlyphs">Dnmt3a</text>
<text x="486.70" y="217.50" font-size="5.42" textLength="16.40" lengthAdjust="spacingAndGlyphs">R878H</text>
<text x="6.70" y="383.70" font-size="11.46" textLength="7.94" lengthAdjust="spacingAndGlyphs" font-weight="bold" fill="#000">C</text>
<text transform="translate(26.0,480.0) rotate(-90)" font-size="9" text-anchor="middle" textLength="64" lengthAdjust="spacingAndGlyphs">% CD45.2+ cells in PB</text>
<line x1="46.40" y1="545.00" x2="90.70" y2="545.00" stroke="#222" stroke-width="1.5"/>
<line x1="47.00" y1="414.60" x2="47.00" y2="545.70" stroke="#222" stroke-width="1.5"/>
<line x1="43.80" y1="544.70" x2="47.00" y2="544.70" stroke="#222" stroke-width="0.9"/>
<text x="41.40" y="547.40" font-size="7.92" text-anchor="end" textLength="4.23" lengthAdjust="spacingAndGlyphs">0</text>
<line x1="43.80" y1="513.25" x2="47.00" y2="513.25" stroke="#222" stroke-width="0.9"/>
<text x="41.40" y="515.95" font-size="7.92" text-anchor="end" textLength="8.45" lengthAdjust="spacingAndGlyphs">20</text>
<line x1="43.80" y1="481.80" x2="47.00" y2="481.80" stroke="#222" stroke-width="0.9"/>
<text x="41.40" y="484.50" font-size="7.92" text-anchor="end" textLength="8.45" lengthAdjust="spacingAndGlyphs">40</text>
<line x1="43.80" y1="450.35" x2="47.00" y2="450.35" stroke="#222" stroke-width="0.9"/>
<text x="41.40" y="453.05" font-size="7.92" text-anchor="end" textLength="8.45" lengthAdjust="spacingAndGlyphs">60</text>
<line x1="43.80" y1="418.90" x2="47.00" y2="418.90" stroke="#222" stroke-width="0.9"/>
<text x="41.40" y="421.60" font-size="7.92" text-anchor="end" textLength="8.45" lengthAdjust="spacingAndGlyphs">80</text>
<text x="68.70" y="392.90" font-size="8.96" text-anchor="middle" textLength="20.10" lengthAdjust="spacingAndGlyphs">HSC</text>
<text x="68.70" y="404.00" font-size="8.96" text-anchor="middle" textLength="20.10" lengthAdjust="spacingAndGlyphs">1<tspan font-size="12.10" dx="0.7" dy="2.83">°</tspan><tspan dy="-2.83"> Tx</tspan></text>
<line x1="56.30" y1="491.86" x2="56.30" y2="487.46" stroke="#333" stroke-width="1.15"/>
<line x1="56.30" y1="519.85" x2="56.30" y2="522.37" stroke="#333" stroke-width="1.15"/>
<line x1="53.30" y1="487.46" x2="59.30" y2="487.46" stroke="#333" stroke-width="1.0"/>
<line x1="53.30" y1="522.37" x2="59.30" y2="522.37" stroke="#333" stroke-width="1.0"/>
<rect x="51.60" y="491.86" width="9.40" height="27.99" fill="#e28a9b"/>
<line x1="51.60" y1="508.38" x2="61.00" y2="508.38" stroke="#222" stroke-width="0.9"/>
<circle cx="56.30" cy="487.46" r="2.1" fill="#c8102e"/>
<circle cx="56.30" cy="503.97" r="2.1" fill="#c8102e"/>
<circle cx="56.30" cy="513.09" r="2.1" fill="#c8102e"/>
<circle cx="56.30" cy="522.37" r="2.1" fill="#c8102e"/>
<line x1="69.90" y1="432.27" x2="69.90" y2="429.28" stroke="#333" stroke-width="1.15"/>
<line x1="69.90" y1="485.73" x2="69.90" y2="494.07" stroke="#333" stroke-width="1.15"/>
<line x1="66.90" y1="429.28" x2="72.90" y2="429.28" stroke="#333" stroke-width="1.0"/>
<line x1="66.90" y1="494.07" x2="72.90" y2="494.07" stroke="#333" stroke-width="1.0"/>
<rect x="65.30" y="432.27" width="9.20" height="53.47" fill="#8dabc9"/>
<line x1="65.30" y1="450.35" x2="74.50" y2="450.35" stroke="#222" stroke-width="0.9"/>
<circle cx="69.90" cy="429.28" r="2.1" fill="#0c4f8c"/>
<circle cx="69.90" cy="434.94" r="2.1" fill="#0c4f8c"/>
<circle cx="69.90" cy="450.35" r="2.1" fill="#0c4f8c"/>
<circle cx="69.90" cy="477.24" r="2.1" fill="#0c4f8c"/>
<circle cx="69.90" cy="494.07" r="2.1" fill="#0c4f8c"/>
<path d="M56.20,479.13 L56.20,414.40 L70.00,414.40 L70.00,423.15" fill="none" stroke="#444" stroke-width="1.0"/>
<text x="63.10" y="412.80" font-size="8.34" text-anchor="middle" textLength="3.11" lengthAdjust="spacingAndGlyphs" font-weight="bold">*</text>
<line x1="117.60" y1="545.00" x2="162.20" y2="545.00" stroke="#222" stroke-width="1.5"/>
<line x1="118.20" y1="414.60" x2="118.20" y2="545.70" stroke="#222" stroke-width="1.5"/>
<line x1="115.00" y1="544.70" x2="118.20" y2="544.70" stroke="#222" stroke-width="0.9"/>
<text x="112.60" y="547.40" font-size="7.92" text-anchor="end" textLength="4.23" lengthAdjust="spacingAndGlyphs">0</text>
<line x1="115.00" y1="513.25" x2="118.20" y2="513.25" stroke="#222" stroke-width="0.9"/>
<text x="112.60" y="515.95" font-size="7.92" text-anchor="end" textLength="8.45" lengthAdjust="spacingAndGlyphs">20</text>
<line x1="115.00" y1="481.80" x2="118.20" y2="481.80" stroke="#222" stroke-width="0.9"/>
<text x="112.60" y="484.50" font-size="7.92" text-anchor="end" textLength="8.45" lengthAdjust="spacingAndGlyphs">40</text>
<line x1="115.00" y1="450.35" x2="118.20" y2="450.35" stroke="#222" stroke-width="0.9"/>
<text x="112.60" y="453.05" font-size="7.92" text-anchor="end" textLength="8.45" lengthAdjust="spacingAndGlyphs">60</text>
<line x1="115.00" y1="418.90" x2="118.20" y2="418.90" stroke="#222" stroke-width="0.9"/>
<text x="112.60" y="421.60" font-size="7.92" text-anchor="end" textLength="8.45" lengthAdjust="spacingAndGlyphs">80</text>
<text x="138.60" y="392.90" font-size="8.96" text-anchor="middle" textLength="18.64" lengthAdjust="spacingAndGlyphs">MPP</text>
<text x="138.60" y="404.00" font-size="8.96" text-anchor="middle" textLength="20.10" lengthAdjust="spacingAndGlyphs">1<tspan font-size="12.10" dx="0.7" dy="2.83">°</tspan><tspan dy="-2.83"> Tx</tspan></text>
<line x1="128.50" y1="517.18" x2="128.50" y2="515.45" stroke="#333" stroke-width="1.15"/>
<line x1="128.50" y1="528.98" x2="128.50" y2="531.33" stroke="#333" stroke-width="1.15"/>
<line x1="125.50" y1="515.45" x2="131.50" y2="515.45" stroke="#333" stroke-width="1.0"/>
<line x1="125.50" y1="531.33" x2="131.50" y2="531.33" stroke="#333" stroke-width="1.0"/>
<rect x="124.00" y="517.18" width="9.00" height="11.79" fill="#e28a9b"/>
<line x1="124.00" y1="522.69" x2="133.00" y2="522.69" stroke="#222" stroke-width="0.9"/>
<circle cx="128.50" cy="515.45" r="2.1" fill="#c8102e"/>
<circle cx="125.60" cy="520.96" r="2.1" fill="#c8102e"/>
<circle cx="131.40" cy="524.10" r="2.1" fill="#c8102e"/>
<circle cx="128.50" cy="531.33" r="2.1" fill="#c8102e"/>
<line x1="143.60" y1="515.77" x2="143.60" y2="513.88" stroke="#333" stroke-width="1.15"/>
<line x1="143.60" y1="524.57" x2="143.60" y2="527.72" stroke="#333" stroke-width="1.15"/>
<line x1="140.60" y1="513.88" x2="146.60" y2="513.88" stroke="#333" stroke-width="1.0"/>
<line x1="140.60" y1="527.72" x2="146.60" y2="527.72" stroke="#333" stroke-width="1.0"/>
<rect x="139.20" y="515.77" width="8.80" height="8.81" fill="#8dabc9"/>
<line x1="139.20" y1="516.40" x2="148.00" y2="516.40" stroke="#222" stroke-width="0.9"/>
<circle cx="141.30" cy="513.88" r="2.1" fill="#0c4f8c"/>
<circle cx="146.60" cy="514.98" r="2.1" fill="#0c4f8c"/>
<circle cx="143.60" cy="517.65" r="2.1" fill="#0c4f8c"/>
<circle cx="143.60" cy="527.72" r="2.1" fill="#0c4f8c"/>
<line x1="189.10" y1="545.00" x2="234.00" y2="545.00" stroke="#222" stroke-width="1.5"/>
<line x1="189.70" y1="414.60" x2="189.70" y2="545.70" stroke="#222" stroke-width="1.5"/>
<line x1="186.50" y1="544.70" x2="189.70" y2="544.70" stroke="#222" stroke-width="0.9"/>
<text x="184.10" y="547.40" font-size="7.92" text-anchor="end" textLength="4.23" lengthAdjust="spacingAndGlyphs">0</text>
<line x1="186.50" y1="513.25" x2="189.70" y2="513.25" stroke="#222" stroke-width="0.9"/>
<text x="184.10" y="515.95" font-size="7.92" text-anchor="end" textLength="8.45" lengthAdjust="spacingAndGlyphs">20</text>
<line x1="186.50" y1="481.80" x2="189.70" y2="481.80" stroke="#222" stroke-width="0.9"/>
<text x="184.10" y="484.50" font-size="7.92" text-anchor="end" textLength="8.45" lengthAdjust="spacingAndGlyphs">40</text>
<line x1="186.50" y1="450.35" x2="189.70" y2="450.35" stroke="#222" stroke-width="0.9"/>
<text x="184.10" y="453.05" font-size="7.92" text-anchor="end" textLength="8.45" lengthAdjust="spacingAndGlyphs">60</text>
<line x1="186.50" y1="418.90" x2="189.70" y2="418.90" stroke="#222" stroke-width="0.9"/>
<text x="184.10" y="421.60" font-size="7.92" text-anchor="end" textLength="8.45" lengthAdjust="spacingAndGlyphs">80</text>
<text x="195.20" y="392.60" font-size="8.96" textLength="19.00" lengthAdjust="spacingAndGlyphs">MPP</text>
<text x="214.20" y="389.70" font-size="6.88" textLength="13.90" lengthAdjust="spacingAndGlyphs">G/M</text>
<text x="212.60" y="403.40" font-size="8.96" text-anchor="middle" textLength="20.10" lengthAdjust="spacingAndGlyphs">1<tspan font-size="12.10" dx="0.7" dy="2.83">°</tspan><tspan dy="-2.83"> Tx</tspan></text>
<line x1="201.50" y1="541.08" x2="201.50" y2="538.10" stroke="#333" stroke-width="1.15"/>
<rect x="197.00" y="541.08" width="9.00" height="3.62" fill="#e28a9b"/>
<line x1="197.00" y1="543.13" x2="206.00" y2="543.13" stroke="#222" stroke-width="0.9"/>
<circle cx="197.50" cy="538.10" r="2.1" fill="#c8102e"/>
<circle cx="198.00" cy="541.08" r="2.1" fill="#c8102e"/>
<circle cx="201.50" cy="541.87" r="2.1" fill="#c8102e"/>
<circle cx="204.00" cy="542.34" r="2.1" fill="#c8102e"/>
<circle cx="205.50" cy="543.13" r="2.1" fill="#c8102e"/>
<circle cx="200.00" cy="543.91" r="2.1" fill="#c8102e"/>
<circle cx="203.50" cy="544.23" r="2.1" fill="#c8102e"/>
<line x1="199.30" y1="538.10" x2="204.30" y2="538.10" stroke="#222" stroke-width="0.9"/>
<line x1="201.70" y1="538.10" x2="201.70" y2="541.08" stroke="#222" stroke-width="0.9"/>
<line x1="218.50" y1="542.34" x2="218.50" y2="540.93" stroke="#333" stroke-width="1.15"/>
<rect x="214.10" y="542.34" width="8.80" height="2.36" fill="#8dabc9"/>
<circle cx="218.00" cy="540.93" r="2.1" fill="#0c4f8c"/>
<circle cx="215.00" cy="542.81" r="2.1" fill="#0c4f8c"/>
<circle cx="220.30" cy="543.13" r="2.1" fill="#0c4f8c"/>
<circle cx="222.50" cy="543.91" r="2.1" fill="#0c4f8c"/>
<circle cx="217.50" cy="544.23" r="2.1" fill="#0c4f8c"/>
<text x="247.70" y="383.70" font-size="11.46" textLength="7.94" lengthAdjust="spacingAndGlyphs" font-weight="bold" fill="#000">D</text>
<text transform="translate(268.3,479.9) rotate(-90)" font-size="9" text-anchor="middle" textLength="65.5" lengthAdjust="spacingAndGlyphs">% CD45.2+ cells in PB</text>
<line x1="292.70" y1="544.90" x2="411.60" y2="544.90" stroke="#222" stroke-width="1.5"/>
<line x1="293.30" y1="414.60" x2="293.30" y2="545.60" stroke="#222" stroke-width="1.4"/>
<line x1="290.10" y1="544.60" x2="293.30" y2="544.60" stroke="#222" stroke-width="0.9"/>
<text x="287.70" y="547.30" font-size="7.92" text-anchor="end" textLength="4.23" lengthAdjust="spacingAndGlyphs">0</text>
<line x1="290.10" y1="519.51" x2="293.30" y2="519.51" stroke="#222" stroke-width="0.9"/>
<text x="287.70" y="522.21" font-size="7.92" text-anchor="end" textLength="8.45" lengthAdjust="spacingAndGlyphs">20</text>
<line x1="290.10" y1="494.42" x2="293.30" y2="494.42" stroke="#222" stroke-width="0.9"/>
<text x="287.70" y="497.12" font-size="7.92" text-anchor="end" textLength="8.45" lengthAdjust="spacingAndGlyphs">40</text>
<line x1="290.10" y1="469.33" x2="293.30" y2="469.33" stroke="#222" stroke-width="0.9"/>
<text x="287.70" y="472.03" font-size="7.92" text-anchor="end" textLength="8.45" lengthAdjust="spacingAndGlyphs">60</text>
<line x1="290.10" y1="444.24" x2="293.30" y2="444.24" stroke="#222" stroke-width="0.9"/>
<text x="287.70" y="446.94" font-size="7.92" text-anchor="end" textLength="8.45" lengthAdjust="spacingAndGlyphs">80</text>
<line x1="290.10" y1="419.15" x2="293.30" y2="419.15" stroke="#222" stroke-width="0.9"/>
<text x="287.70" y="421.85" font-size="7.92" text-anchor="end" textLength="12.68" lengthAdjust="spacingAndGlyphs">100</text>
<text x="352.60" y="393.00" font-size="8.96" text-anchor="middle" textLength="20.10" lengthAdjust="spacingAndGlyphs">HSC</text>
<text x="352.60" y="404.20" font-size="8.96" text-anchor="middle" textLength="20.10" lengthAdjust="spacingAndGlyphs">2<tspan font-size="12.10" dx="0.7" dy="2.83">°</tspan><tspan dy="-2.83"> Tx</tspan></text>
<line x1="306.50" y1="544.60" x2="306.50" y2="547.80" stroke="#222" stroke-width="0.9"/>
<text x="306.50" y="556.30" font-size="7.92" text-anchor="middle" textLength="4.23" lengthAdjust="spacingAndGlyphs">4</text>
<line x1="337.20" y1="544.60" x2="337.20" y2="547.80" stroke="#222" stroke-width="0.9"/>
<text x="337.20" y="556.30" font-size="7.92" text-anchor="middle" textLength="4.23" lengthAdjust="spacingAndGlyphs">8</text>
<line x1="367.90" y1="544.60" x2="367.90" y2="547.80" stroke="#222" stroke-width="0.9"/>
<text x="367.90" y="556.30" font-size="7.92" text-anchor="middle" textLength="8.45" lengthAdjust="spacingAndGlyphs">12</text>
<line x1="398.60" y1="544.60" x2="398.60" y2="547.80" stroke="#222" stroke-width="0.9"/>
<text x="398.60" y="556.30" font-size="7.92" text-anchor="middle" textLength="8.45" lengthAdjust="spacingAndGlyphs">16</text>
<text x="352.20" y="568.70" font-size="9.38" text-anchor="middle" textLength="63.00" lengthAdjust="spacingAndGlyphs">Weeks post-transplant</text>
<line x1="300.80" y1="531.55" x2="300.80" y2="526.54" stroke="#333" stroke-width="1.15"/>
<line x1="300.80" y1="541.46" x2="300.80" y2="542.09" stroke="#333" stroke-width="1.15"/>
<rect x="297.30" y="531.55" width="7.00" height="9.91" fill="#e28a9b"/>
<line x1="297.30" y1="535.94" x2="304.30" y2="535.94" stroke="#222" stroke-width="0.9"/>
<circle cx="300.80" cy="526.54" r="2.0" fill="#c8102e"/>
<circle cx="299.80" cy="529.55" r="2.0" fill="#c8102e"/>
<circle cx="301.80" cy="531.43" r="2.0" fill="#c8102e"/>
<circle cx="299.80" cy="533.31" r="2.0" fill="#c8102e"/>
<circle cx="301.80" cy="535.19" r="2.0" fill="#c8102e"/>
<circle cx="299.80" cy="537.07" r="2.0" fill="#c8102e"/>
<circle cx="301.80" cy="538.95" r="2.0" fill="#c8102e"/>
<circle cx="299.80" cy="540.59" r="2.0" fill="#c8102e"/>
<circle cx="301.80" cy="542.09" r="2.0" fill="#c8102e"/>
<line x1="312.30" y1="481.12" x2="312.30" y2="472.84" stroke="#333" stroke-width="1.15"/>
<line x1="312.30" y1="522.90" x2="312.30" y2="529.04" stroke="#333" stroke-width="1.15"/>
<rect x="308.80" y="481.12" width="7.00" height="41.77" fill="#8dabc9"/>
<line x1="308.80" y1="502.70" x2="315.80" y2="502.70" stroke="#222" stroke-width="0.9"/>
<circle cx="312.30" cy="472.84" r="2.0" fill="#0c4f8c"/>
<circle cx="312.30" cy="481.88" r="2.0" fill="#0c4f8c"/>
<circle cx="312.30" cy="489.53" r="2.0" fill="#0c4f8c"/>
<circle cx="312.30" cy="514.37" r="2.0" fill="#0c4f8c"/>
<circle cx="312.30" cy="522.14" r="2.0" fill="#0c4f8c"/>
<circle cx="312.30" cy="529.04" r="2.0" fill="#0c4f8c"/>
<line x1="331.50" y1="513.24" x2="331.50" y2="478.11" stroke="#333" stroke-width="1.15"/>
<rect x="328.00" y="513.24" width="7.00" height="28.85" fill="#e28a9b"/>
<line x1="328.00" y1="529.55" x2="335.00" y2="529.55" stroke="#222" stroke-width="0.9"/>
<circle cx="331.50" cy="478.11" r="2.0" fill="#c8102e"/>
<circle cx="331.50" cy="500.69" r="2.0" fill="#c8102e"/>
<circle cx="331.50" cy="517.00" r="2.0" fill="#c8102e"/>
<circle cx="332.50" cy="526.41" r="2.0" fill="#c8102e"/>
<circle cx="330.50" cy="529.55" r="2.0" fill="#c8102e"/>
<circle cx="332.50" cy="532.68" r="2.0" fill="#c8102e"/>
<circle cx="330.50" cy="536.70" r="2.0" fill="#c8102e"/>
<circle cx="332.50" cy="539.58" r="2.0" fill="#c8102e"/>
<circle cx="330.50" cy="541.46" r="2.0" fill="#c8102e"/>
<line x1="343.00" y1="455.03" x2="343.00" y2="449.01" stroke="#333" stroke-width="1.15"/>
<rect x="339.50" y="455.03" width="7.00" height="83.68" fill="#8dabc9"/>
<line x1="339.50" y1="490.53" x2="346.50" y2="490.53" stroke="#222" stroke-width="0.9"/>
<circle cx="343.00" cy="449.01" r="2.0" fill="#0c4f8c"/>
<circle cx="343.00" cy="456.79" r="2.0" fill="#0c4f8c"/>
<circle cx="343.00" cy="464.56" r="2.0" fill="#0c4f8c"/>
<circle cx="343.00" cy="517.00" r="2.0" fill="#0c4f8c"/>
<circle cx="344.00" cy="536.82" r="2.0" fill="#0c4f8c"/>
<circle cx="341.80" cy="537.95" r="2.0" fill="#0c4f8c"/>
<line x1="362.20" y1="517.75" x2="362.20" y2="461.30" stroke="#333" stroke-width="1.15"/>
<line x1="362.20" y1="542.09" x2="362.20" y2="543.35" stroke="#333" stroke-width="1.15"/>
<rect x="358.70" y="517.75" width="7.00" height="24.34" fill="#e28a9b"/>
<line x1="358.70" y1="537.57" x2="365.70" y2="537.57" stroke="#222" stroke-width="0.9"/>
<circle cx="362.20" cy="461.30" r="2.0" fill="#c8102e"/>
<circle cx="362.20" cy="501.82" r="2.0" fill="#c8102e"/>
<circle cx="362.20" cy="524.53" r="2.0" fill="#c8102e"/>
<circle cx="363.20" cy="533.31" r="2.0" fill="#c8102e"/>
<circle cx="361.20" cy="537.07" r="2.0" fill="#c8102e"/>
<circle cx="363.20" cy="540.84" r="2.0" fill="#c8102e"/>
<circle cx="361.20" cy="542.09" r="2.0" fill="#c8102e"/>
<circle cx="363.20" cy="543.35" r="2.0" fill="#c8102e"/>
<rect x="370.20" y="442.73" width="7.00" height="97.98" fill="#8dabc9"/>
<line x1="370.20" y1="495.67" x2="377.20" y2="495.67" stroke="#222" stroke-width="0.9"/>
<circle cx="372.70" cy="442.73" r="2.0" fill="#0c4f8c"/>
<circle cx="374.70" cy="442.73" r="2.0" fill="#0c4f8c"/>
<circle cx="373.70" cy="463.18" r="2.0" fill="#0c4f8c"/>
<circle cx="373.70" cy="528.92" r="2.0" fill="#0c4f8c"/>
<circle cx="373.70" cy="538.08" r="2.0" fill="#0c4f8c"/>
<circle cx="373.70" cy="539.58" r="2.0" fill="#0c4f8c"/>
<line x1="392.90" y1="522.90" x2="392.90" y2="465.32" stroke="#333" stroke-width="1.15"/>
<line x1="392.90" y1="542.09" x2="392.90" y2="543.35" stroke="#333" stroke-width="1.15"/>
<rect x="389.40" y="522.90" width="7.00" height="19.19" fill="#e28a9b"/>
<line x1="389.40" y1="537.57" x2="396.40" y2="537.57" stroke="#222" stroke-width="0.9"/>
<circle cx="392.90" cy="465.32" r="2.0" fill="#c8102e"/>
<circle cx="392.90" cy="505.71" r="2.0" fill="#c8102e"/>
<circle cx="393.90" cy="535.82" r="2.0" fill="#c8102e"/>
<circle cx="391.90" cy="538.33" r="2.0" fill="#c8102e"/>
<circle cx="393.90" cy="540.84" r="2.0" fill="#c8102e"/>
<circle cx="391.90" cy="542.09" r="2.0" fill="#c8102e"/>
<circle cx="393.90" cy="543.35" r="2.0" fill="#c8102e"/>
<line x1="404.40" y1="442.73" x2="404.40" y2="439.35" stroke="#333" stroke-width="1.15"/>
<rect x="400.90" y="442.73" width="7.00" height="97.98" fill="#8dabc9"/>
<line x1="400.90" y1="500.19" x2="407.90" y2="500.19" stroke="#222" stroke-width="0.9"/>
<circle cx="405.40" cy="439.35" r="2.0" fill="#0c4f8c"/>
<circle cx="403.40" cy="441.48" r="2.0" fill="#0c4f8c"/>
<circle cx="404.40" cy="465.57" r="2.0" fill="#0c4f8c"/>
<circle cx="404.40" cy="533.94" r="2.0" fill="#0c4f8c"/>
<circle cx="404.40" cy="535.82" r="2.0" fill="#0c4f8c"/>
<circle cx="404.40" cy="540.46" r="2.0" fill="#0c4f8c"/>
<path d="M300.80,519.76 L300.80,424.92 L312.30,424.92 L312.30,469.58" fill="none" stroke="#444" stroke-width="1.0"/>
<text x="306.55" y="424.72" font-size="8.34" text-anchor="middle" textLength="3.11" lengthAdjust="spacingAndGlyphs" font-weight="bold">*</text>
<path d="M362.20,453.15 L362.20,424.42 L373.70,424.42 L373.70,434.83" fill="none" stroke="#444" stroke-width="1.0"/>
<text x="367.95" y="424.22" font-size="8.34" text-anchor="middle" textLength="3.11" lengthAdjust="spacingAndGlyphs" font-weight="bold">*</text>
<path d="M392.90,459.67 L392.90,424.42 L404.40,424.42 L404.40,432.20" fill="none" stroke="#444" stroke-width="1.0"/>
<text x="398.65" y="424.22" font-size="8.34" text-anchor="middle" textLength="3.11" lengthAdjust="spacingAndGlyphs" font-weight="bold">*</text>
<text x="425.80" y="383.70" font-size="11.46" textLength="7.34" lengthAdjust="spacingAndGlyphs" font-weight="bold" fill="#000">E</text>
<text transform="translate(446.6,479.9) rotate(-90)" font-size="9" text-anchor="middle" textLength="65.5" lengthAdjust="spacingAndGlyphs">% CD45.2+ cells in BM</text>
<line x1="469.70" y1="544.70" x2="512.90" y2="544.70" stroke="#222" stroke-width="1.5"/>
<line x1="470.30" y1="414.60" x2="470.30" y2="545.40" stroke="#222" stroke-width="1.4"/>
<line x1="467.10" y1="544.40" x2="470.30" y2="544.40" stroke="#222" stroke-width="0.9"/>
<text x="464.70" y="547.10" font-size="7.92" text-anchor="end" textLength="4.23" lengthAdjust="spacingAndGlyphs">0</text>
<line x1="467.10" y1="519.31" x2="470.30" y2="519.31" stroke="#222" stroke-width="0.9"/>
<text x="464.70" y="522.01" font-size="7.92" text-anchor="end" textLength="8.45" lengthAdjust="spacingAndGlyphs">20</text>
<line x1="467.10" y1="494.22" x2="470.30" y2="494.22" stroke="#222" stroke-width="0.9"/>
<text x="464.70" y="496.92" font-size="7.92" text-anchor="end" textLength="8.45" lengthAdjust="spacingAndGlyphs">40</text>
<line x1="467.10" y1="469.13" x2="470.30" y2="469.13" stroke="#222" stroke-width="0.9"/>
<text x="464.70" y="471.83" font-size="7.92" text-anchor="end" textLength="8.45" lengthAdjust="spacingAndGlyphs">60</text>
<line x1="467.10" y1="444.04" x2="470.30" y2="444.04" stroke="#222" stroke-width="0.9"/>
<text x="464.70" y="446.74" font-size="7.92" text-anchor="end" textLength="8.45" lengthAdjust="spacingAndGlyphs">80</text>
<line x1="467.10" y1="418.95" x2="470.30" y2="418.95" stroke="#222" stroke-width="0.9"/>
<text x="464.70" y="421.65" font-size="7.92" text-anchor="end" textLength="12.68" lengthAdjust="spacingAndGlyphs">100</text>
<text x="491.80" y="392.90" font-size="8.96" text-anchor="middle" textLength="19.80" lengthAdjust="spacingAndGlyphs">HSC</text>
<text x="491.80" y="404.00" font-size="8.96" text-anchor="middle" textLength="19.80" lengthAdjust="spacingAndGlyphs">2<tspan font-size="12.10" dx="0.7" dy="2.83">°</tspan><tspan dy="-2.83"> Tx</tspan></text>
<line x1="482.20" y1="540.64" x2="482.20" y2="535.12" stroke="#333" stroke-width="1.15"/>
<line x1="478.75" y1="535.12" x2="485.65" y2="535.12" stroke="#333" stroke-width="1.0"/>
<line x1="478.75" y1="544.40" x2="485.65" y2="544.40" stroke="#333" stroke-width="1.0"/>
<rect x="478.70" y="540.64" width="7.00" height="3.76" fill="#e28a9b"/>
<line x1="478.70" y1="542.52" x2="485.70" y2="542.52" stroke="#222" stroke-width="0.9"/>
<circle cx="482.20" cy="535.12" r="2.1" fill="#c8102e"/>
<circle cx="480.70" cy="538.75" r="2.1" fill="#c8102e"/>
<circle cx="483.70" cy="539.63" r="2.1" fill="#c8102e"/>
<circle cx="479.20" cy="540.64" r="2.1" fill="#c8102e"/>
<circle cx="485.70" cy="540.89" r="2.1" fill="#c8102e"/>
<circle cx="477.70" cy="541.89" r="2.1" fill="#c8102e"/>
<circle cx="482.20" cy="542.14" r="2.1" fill="#c8102e"/>
<circle cx="486.70" cy="542.52" r="2.1" fill="#c8102e"/>
<circle cx="480.20" cy="543.15" r="2.1" fill="#c8102e"/>
<circle cx="484.20" cy="543.77" r="2.1" fill="#c8102e"/>
<circle cx="478.20" cy="544.02" r="2.1" fill="#c8102e"/>
<circle cx="482.20" cy="544.02" r="2.1" fill="#c8102e"/>
<line x1="502.00" y1="462.86" x2="502.00" y2="441.78" stroke="#333" stroke-width="1.15"/>
<line x1="502.00" y1="521.82" x2="502.00" y2="531.10" stroke="#333" stroke-width="1.15"/>
<line x1="498.40" y1="441.78" x2="505.60" y2="441.78" stroke="#333" stroke-width="1.0"/>
<line x1="498.40" y1="531.10" x2="505.60" y2="531.10" stroke="#333" stroke-width="1.0"/>
<rect x="495.90" y="462.86" width="12.20" height="58.96" fill="#8dabc9"/>
<line x1="495.90" y1="490.46" x2="508.10" y2="490.46" stroke="#222" stroke-width="0.9"/>
<circle cx="502.00" cy="441.78" r="2.1" fill="#0c4f8c"/>
<circle cx="502.00" cy="469.13" r="2.1" fill="#0c4f8c"/>
<circle cx="498.70" cy="490.46" r="2.1" fill="#0c4f8c"/>
<circle cx="505.30" cy="490.46" r="2.1" fill="#0c4f8c"/>
<circle cx="502.00" cy="519.31" r="2.1" fill="#0c4f8c"/>
<circle cx="502.00" cy="531.10" r="2.1" fill="#0c4f8c"/>
<path d="M480.5,425.5 L480.5,432.2 M480.5,428.8 L500.3,428.8 M500.3,425.5 L500.3,432.2" fill="none" stroke="#333" stroke-width="1.2"/>
<text x="490.40" y="427.90" font-size="7.50" text-anchor="middle" textLength="10.00" lengthAdjust="spacingAndGlyphs" font-weight="bold">***</text>
<rect x="0.5" y="0.5" width="519" height="575" fill="none" stroke="#000" stroke-width="1"/>
</svg></body></html>
